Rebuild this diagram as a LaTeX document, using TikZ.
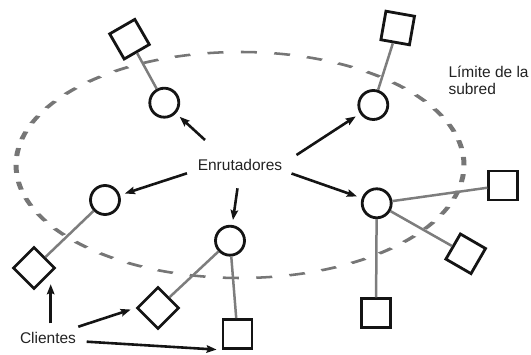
\documentclass[tikz,border=0pt]{standalone}
\usepackage{fontspec}
\setmainfont{Liberation Sans}
\usetikzlibrary{arrows.meta}
\definecolor{ringgray}{RGB}{118,118,118}
\definecolor{linkgray}{RGB}{125,125,125}
\definecolor{ink}{RGB}{20,20,20}
\definecolor{labelink}{RGB}{34,34,34}
\begin{document}
\begin{tikzpicture}[x=1pt,y=-1pt,
  router/.style={circle,draw=ink,line width=2.8pt,fill=white,minimum size=29pt,inner sep=0pt},
  client/.style={rectangle,draw=ink,line width=2.8pt,fill=white,minimum size=29pt,inner sep=0pt},
  link/.style={draw=linkgray,line width=2.5pt},
  pointer/.style={draw=ink,line width=2.6pt,-{Stealth[length=10pt,width=7.5pt,inset=1.5pt]},shorten >=5pt},
  ring/.style={draw=ringgray,line width=5pt,dash pattern=on 16pt off 17.5pt},
  caption/.style={font=\fontsize{15.5pt}{17pt}\selectfont,text=labelink,inner sep=0pt}]
\useasboundingbox (0,0) rectangle (531,355);

% subnet boundary: a dashed circle seen in perspective
\begin{scope}[transform canvas={shift={(240pt,-165pt)},yscale=0.5045}]
  \draw[ring] (0,0) circle[radius=224pt];
\end{scope}

% routers
\node[router] (r1) at (164.3,102.7) {};
\node[router] (r2) at (373.3,105) {};
\node[router] (r3) at (105,200) {};
\node[router] (r4) at (230,240.7) {};
\node[router] (r5) at (376.7,203.3) {};

% clients
\node[client,rotate=30]  (c1) at (129.5,39.2) {};
\node[client,rotate=-10] (c2) at (397.7,28) {};
\node[client,rotate=45]  (c3) at (34,268) {};
\node[client,rotate=45]  (c4) at (158,308) {};
\node[client]            (c5) at (237.5,334) {};
\node[client]            (c6) at (503.3,185.5) {};
\node[client,rotate=-30] (c7) at (465.7,253.8) {};
\node[client]            (c8) at (376,313.3) {};

% links between clients and routers
\draw[link] (c1) -- (r1);
\draw[link] (c2) -- (r2);
\draw[link] (c3) -- (r3);
\draw[link] (c4) -- (r4);
\draw[link] (c5) -- (r4);
\draw[link] (c6) -- (r5);
\draw[link] (c7) -- (r5);
\draw[link] (c8) -- (r5);

% labels
\node[caption,anchor=base] (routers) at (240,170.7) {Enrutadores};
\node[caption,anchor=base] (clients) at (48,343.3) {Clientes};
\node[caption,anchor=base west,align=left] (boundary) at (448.3,95) {Límite de la\\subred};

% arrow tails around the labels
\coordinate (t1) at (205,140);
\coordinate (t2) at (296.5,155);
\coordinate (t3) at (187,173.3);
\coordinate (t4) at (237.5,188.3);
\coordinate (t5) at (291.5,173.5);
\coordinate (u1) at (50.7,323.3);
\coordinate (u2) at (78.3,326.7);
\coordinate (u3) at (86.7,341.7);

% arrows to the routers
\draw[pointer] (t1) -- (r1);
\draw[pointer] (t2) -- (r2);
\draw[pointer] (t3) -- (r3);
\draw[pointer] (t4) -- (r4);
\draw[pointer] (t5) -- (r5);

% arrows to the clients
\draw[pointer] (u1) -- (u1 |- c3.south);
\draw[pointer] (u2) -- (c4.north west);
\draw[pointer] (u3) -- (c5.south west);
\end{tikzpicture}
\end{document}
